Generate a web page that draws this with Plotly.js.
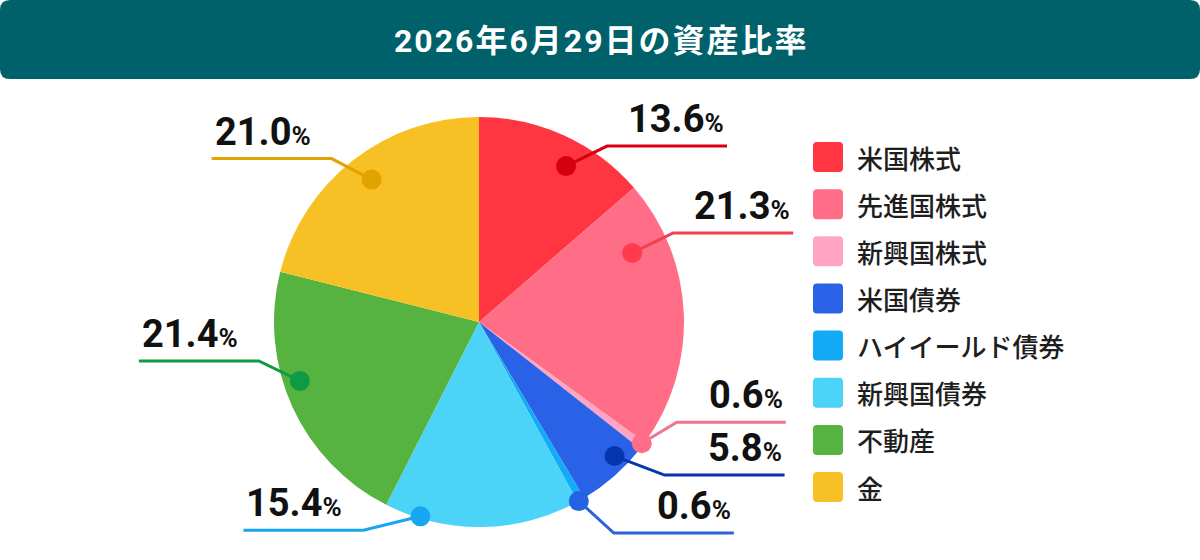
<!DOCTYPE html>
<html>
<head>
<meta charset="utf-8">
<script src="https://cdn.plot.ly/plotly-3.0.1.min.js"></script>
<style>
  html, body { margin: 0; padding: 0; background: #ffffff; }
  #chart { width: 1200px; height: 560px; }
</style>
</head>
<body>
<div id="chart"></div>
<script>
// ---- data ----
const titleText = '2026年6月29日の資産比率';
const categories = ['米国株式', '先進国株式', '新興国株式', '米国債券', 'ハイイールド債券', '新興国債券', '不動産', '金'];
const values = [13.6, 21.3, 0.6, 5.8, 0.6, 15.4, 21.4, 21.0];
const valueLabels = ['13.6', '21.3', '0.6', '5.8', '0.6', '15.4', '21.4', '21.0'];

// ---- styles ----
const sliceColors = ['#ff3641', '#ff6d87', '#ffa5c3', '#2962e7', '#13aaf6', '#4bd4f8', '#57b33f', '#f7c025'];
const leaderColors = ['#d5000f', '#f2404e', '#f07390', '#0536ae', '#2a62dc', '#17a6f1', '#0f9a46', '#e0a300'];
const dotColors = ['#d5000f', '#ff3c4d', '#ff6d88', '#0536ae', '#2562e2', '#17a6f1', '#0f9a46', '#e0a300'];
// label placement: fraction along slice, fraction of radius, elbow offset (px)
const labelT = [0.594, 0.216, 0.3, 0.31, 0.8, 0.818, 0.581, 0.512];
const labelR = [0.871, 0.82, 0.99, 0.93, 1.0, 0.99, 0.92, 0.87];
const elbowDX = [41, 41, 35, 50, 35, -57, -41, -40];
const elbowDY = [-20, -20, -21, 19, 32, 14, -20, -21];
const leaderLen = [120, 120, 109, 120, 120, 120, 120, 120];

const W = 1200, H = 560;
const cx = 479, cy = 322, R = 205;
const px = x => x / W;
const py = y => 1 - y / H;

const shapes = [];
const annotations = [];

function roundRect(x0, y0, x1, y1, r) {
  const P = (x, y) => px(x) + ',' + py(y);
  return 'M' + P(x0 + r, y0) + ' L' + P(x1 - r, y0) + ' Q' + P(x1, y0) + ' ' + P(x1, y0 + r) +
    ' L' + P(x1, y1 - r) + ' Q' + P(x1, y1) + ' ' + P(x1 - r, y1) +
    ' L' + P(x0 + r, y1) + ' Q' + P(x0, y1) + ' ' + P(x0, y1 - r) +
    ' L' + P(x0, y0 + r) + ' Q' + P(x0, y0) + ' ' + P(x0 + r, y0) + ' Z';
}

// title bar
shapes.push({ type: 'path', xref: 'paper', yref: 'paper', path: roundRect(0, 0, W, 79, 10), fillcolor: '#00616a', line: { width: 0 }, layer: 'below' });
annotations.push({
  name: 'title',
  xref: 'paper', yref: 'paper', x: px(601), y: py(41), xanchor: 'center', yanchor: 'middle',
  text: '<b>' + titleText + '</b>', showarrow: false,
  font: { family: 'Roboto, "Noto Sans CJK JP", sans-serif', size: 32, color: '#ffffff' }
});

// leader lines, dots and value labels
const total = values.reduce((a, b) => a + b, 0);
let cum = 0;
values.forEach((v, i) => {
  const a0 = cum / total * 360;
  const a1 = (cum + v) / total * 360;
  cum += v;
  const ang = (a0 + (a1 - a0) * labelT[i]) * Math.PI / 180;
  const dx = cx + Math.sin(ang) * R * labelR[i];
  const dy = cy - Math.cos(ang) * R * labelR[i];
  const ex = dx + elbowDX[i], ey = dy + elbowDY[i];
  const right = elbowDX[i] > 0;
  const endX = right ? ex + leaderLen[i] : ex - leaderLen[i];
  shapes.push({
    type: 'path', xref: 'paper', yref: 'paper',
    path: 'M' + px(dx) + ',' + py(dy) + ' L' + px(ex) + ',' + py(ey) + ' L' + px(endX) + ',' + py(ey),
    line: { color: leaderColors[i], width: 3 }
  });
  shapes.push({
    type: 'circle', xref: 'paper', yref: 'paper',
    x0: px(dx - 10), x1: px(dx + 10), y0: py(dy - 10), y1: py(dy + 10),
    fillcolor: dotColors[i], line: { width: 0 }
  });
  annotations.push({
    xref: 'paper', yref: 'paper',
    x: px(right ? endX - 1 : endX + 1), y: py(ey - 27),
    xanchor: right ? 'right' : 'left', yanchor: 'middle',
    text: '<b>' + valueLabels[i] + '<span style="font-size:26px">%</span></b>',
    showarrow: false,
    font: { family: 'Roboto, sans-serif', size: 38, color: '#111111' }
  });
});

// legend
categories.forEach((c, i) => {
  const yc = 157 + i * 47.15;
  shapes.push({ type: 'path', xref: 'paper', yref: 'paper', path: roundRect(813, yc - 15, 843, yc + 15, 4), fillcolor: sliceColors[i], line: { width: 0 } });
  annotations.push({
    xref: 'paper', yref: 'paper', x: px(855), y: py(yc), xanchor: 'left', yanchor: 'middle',
    text: c, showarrow: false,
    font: { family: '"Noto Sans CJK JP", sans-serif', size: 26, color: '#1e1e1e', weight: 500 }
  });
});

const trace = {
  type: 'pie',
  labels: categories,
  values: values,
  sort: false,
  direction: 'clockwise',
  rotation: 0,
  textinfo: 'none',
  hoverinfo: 'label+percent',
  marker: { colors: sliceColors, line: { width: 0 } },
  domain: { x: [px(cx - R), px(cx + R)], y: [py(cy + R), py(cy - R)] },
  showlegend: false
};

const layout = {
  width: W, height: H,
  margin: { l: 0, r: 0, t: 0, b: 0, pad: 0 },
  paper_bgcolor: '#ffffff',
  plot_bgcolor: '#ffffff',
  showlegend: false,
  shapes: shapes,
  annotations: annotations
};

Plotly.newPlot('chart', [trace], layout, { displayModeBar: false, staticPlot: true }).then(function (gd) {
  // widen the title's letter spacing to match the reference
  const t = gd.querySelector('.annotation[data-index="0"] .annotation-text');
  if (t) t.style.letterSpacing = '2px';
});
</script>
</body>
</html>
